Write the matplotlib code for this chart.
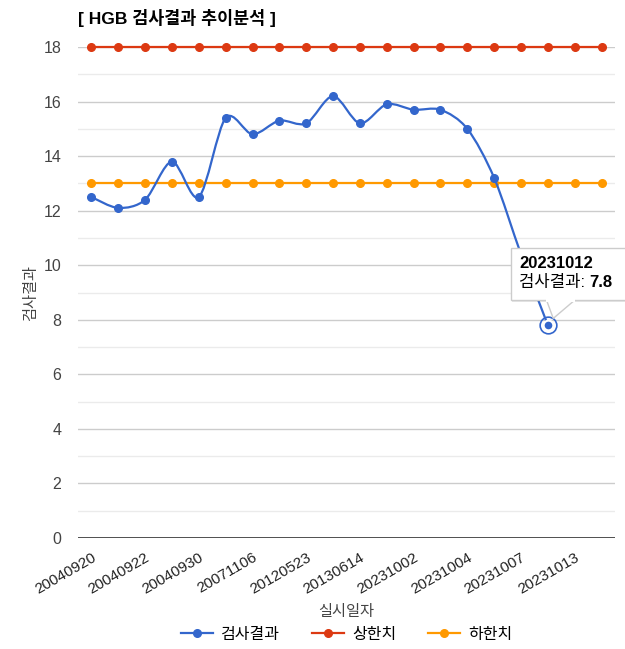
import numpy as np
import matplotlib
matplotlib.use('Agg')
import matplotlib.pyplot as plt
from matplotlib.path import Path
from matplotlib.patches import PathPatch, Rectangle, Polygon
from matplotlib.ticker import MultipleLocator

plt.rcParams['font.family'] = ['Liberation Sans', 'Noto Sans CJK KR', 'DejaVu Sans']

# data
dates = ['20040920', '20040921', '20040922', '20040927', '20040930', '20050315',
         '20071106', '20100812', '20120523', '20121204', '20130614', '20230928',
         '20231002', '20231003', '20231004', '20231005', '20231007', '20231012',
         '20231013', '20231016']
results = [12.5, 12.1, 12.4, 13.8, 12.5, 15.4, 14.8, 15.3, 15.2, 16.2,
           15.2, 15.9, 15.7, 15.7, 15.0, 13.2, 10.4, 7.8]
upper = [18] * 20
lower = [13] * 20

BLUE, RED, ORANGE = '#3366cc', '#dc3912', '#ff9900'

fig = plt.figure(figsize=(6.25, 6.49), dpi=100)
ax = fig.add_axes([0.1248, 0.171, 0.8592, 0.7566])

x = np.arange(len(dates))
xr = np.arange(len(results))

# smooth curve (cubic bezier through the points)
pts = np.column_stack([xr, results]).astype(float)
k = 0.3
verts = [pts[0]]
codes = [Path.MOVETO]
for i in range(len(pts) - 1):
    p0 = pts[max(i - 1, 0)]
    p1 = pts[i]
    p2 = pts[i + 1]
    p3 = pts[min(i + 2, len(pts) - 1)]
    c1 = p1 + (p2 - p0) * k / 2
    c2 = p2 - (p3 - p1) * k / 2
    verts += [c1, c2, p2]
    codes += [Path.CURVE4] * 3
ax.add_patch(PathPatch(Path(verts, codes), fill=False, ec=BLUE, lw=1.6, zorder=4))
ax.plot(xr, results, 'o', color=BLUE, ms=5.5, zorder=5)
ax.plot([], [], '-o', color=BLUE, ms=5.5, lw=1.6, label='검사결과')

ax.plot(x, upper, '-o', color=RED, ms=5.5, lw=1.6, label='상한치', zorder=3, clip_on=False)
ax.plot(x, lower, '-o', color=ORANGE, ms=5.5, lw=1.6, label='하한치', zorder=3)

ax.set_xlim(-0.5, len(dates) - 0.5)
ax.set_ylim(0, 18)
ax.yaxis.set_major_locator(MultipleLocator(2))
ax.yaxis.set_minor_locator(MultipleLocator(1))
ax.grid(which='major', axis='y', color='#cccccc', lw=1)
ax.grid(which='minor', axis='y', color='#ebebeb', lw=1)
ax.axhline(0, color='#333333', lw=1.2, zorder=2)
ax.set_axisbelow(True)
for s in ax.spines.values():
    s.set_visible(False)
ax.tick_params(axis='both', which='both', length=0)
ax.tick_params(axis='y', labelsize=11.5, labelcolor='#444444', pad=12)

ax.set_xticks(x[::2])
ax.set_xticklabels(dates[::2], rotation=30, ha='right', va='top',
                   rotation_mode='anchor', fontsize=11, color='#222222')
ax.tick_params(axis='x', pad=9)

ax.set_ylabel('검사결과', fontsize=11, color='#444444', labelpad=4)
ax.set_xlabel('실시일자', fontsize=11, color='#444444', labelpad=6)

fig.text(78 / 625, 1 - 18 / 649, '[ HGB 검사결과 추이분석 ]', fontsize=12.5,
         fontweight='bold', va='center', ha='left')

fig.legend(loc='center', bbox_to_anchor=(0.555, 1 - 634 / 649), ncol=3,
           frameon=False, fontsize=11.5, handlelength=2.0, columnspacing=2.0,
           handletextpad=0.5)

# highlighted point + tooltip
i = len(results) - 1
ax.plot(i, results[i], 'o', ms=12, mfc='none', mec=BLUE, mew=1.2, zorder=6)
ax.plot(i, results[i], 'o', ms=7, mfc=BLUE, mec='white', mew=1.5, zorder=7)
bx0, bx1, by0, by1 = 15.62, 20.0, 8.72, 10.63
ax.add_patch(Rectangle((bx0 + 0.04, by0 - 0.06), bx1 - bx0, by1 - by0, fc='#00000018',
                       ec='none', clip_on=False, zorder=8))
ax.add_patch(Rectangle((bx0, by0), bx1 - bx0, by1 - by0, fc='white', ec='#cccccc',
                       lw=1, clip_on=False, zorder=9))
ax.add_patch(Polygon([[16.95, by0], [18.0, by0], [17.2, 8.05]], closed=True,
                     fc='white', ec='#cccccc', lw=1, clip_on=False, zorder=9))
ax.add_patch(Rectangle((16.93, by0 - 0.05), 1.09, 0.12, fc='white', ec='none',
                       clip_on=False, zorder=9.5))
ax.text(15.92, 10.07, dates[i], fontsize=12, fontweight='bold', va='center',
        zorder=10, clip_on=False)
ax.text(15.92, 9.35, '검사결과: ', fontsize=12, va='center', zorder=10, clip_on=False)
ax.text(18.55, 9.35, str(results[i]), fontsize=12, fontweight='bold', va='center',
        zorder=10, clip_on=False)

fig.savefig('out.png', dpi=100)
